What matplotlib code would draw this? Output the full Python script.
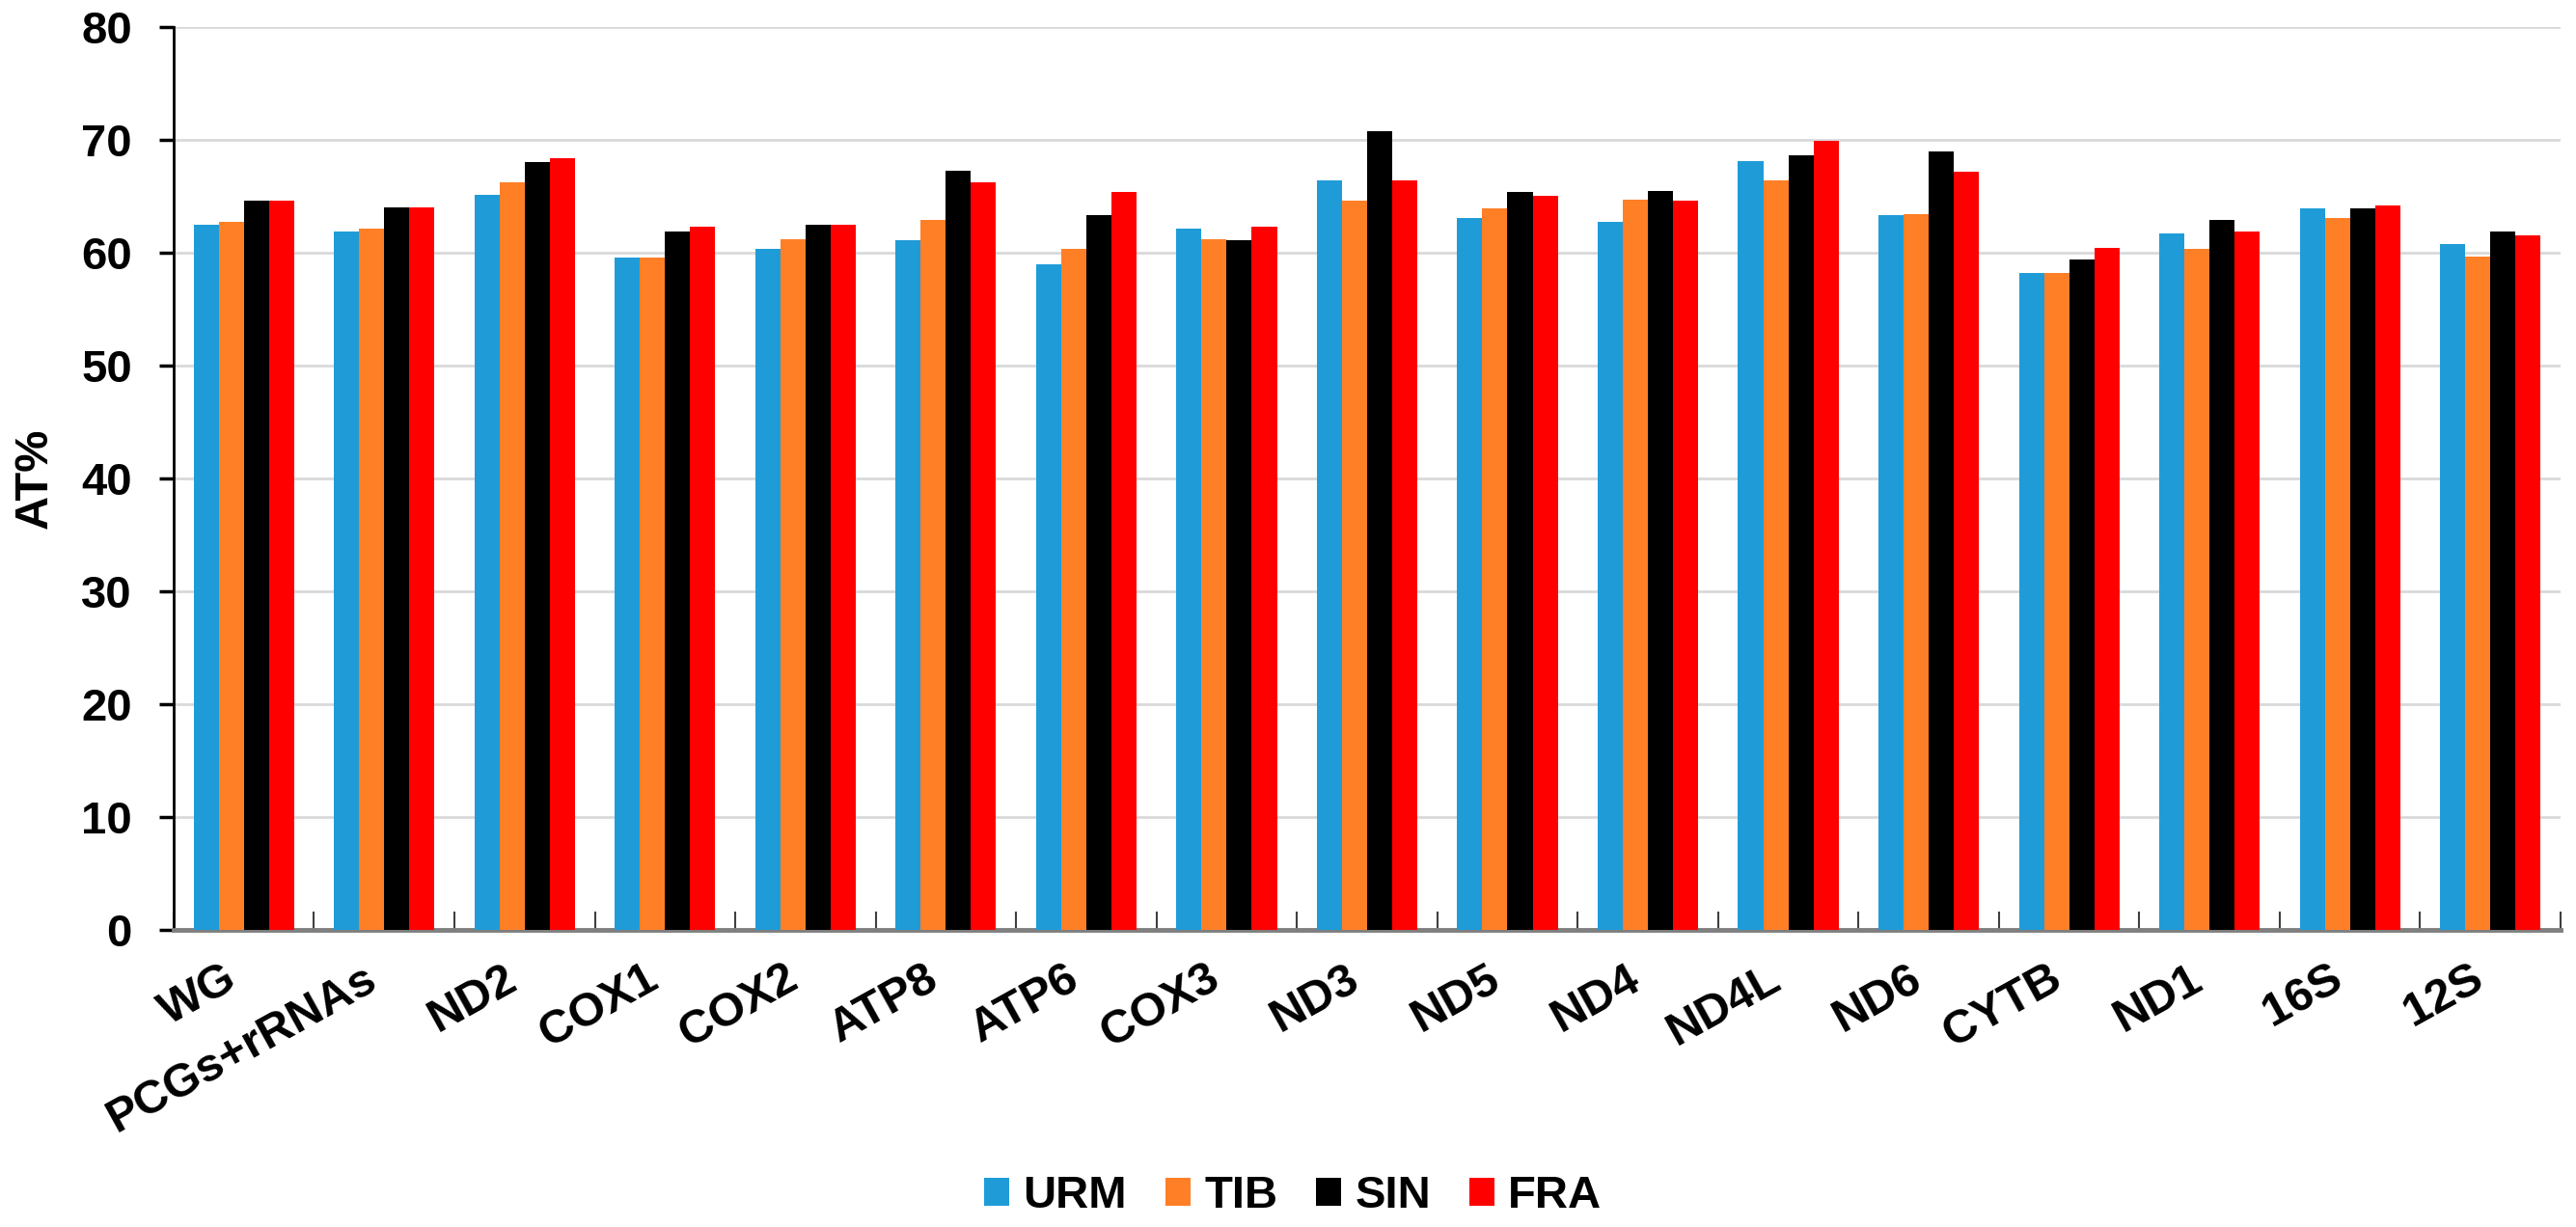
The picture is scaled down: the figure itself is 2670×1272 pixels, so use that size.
import matplotlib
matplotlib.use("Agg")
import matplotlib.pyplot as plt
import numpy as np

plt.rcParams['font.family'] = ['Liberation Sans', 'DejaVu Sans']

categories = ["WG", "PCGs+rRNAs", "ND2", "COX1", "COX2", "ATP8", "ATP6", "COX3",
              "ND3", "ND5", "ND4", "ND4L", "ND6", "CYTB", "ND1", "16S", "12S"]
URM = [62.5, 61.9, 65.1, 59.6, 60.3, 61.1, 59.0, 62.1, 66.4, 63.1, 62.7, 68.1, 63.3, 58.2, 61.7, 63.9, 60.8]
TIB = [62.7, 62.1, 66.2, 59.6, 61.2, 62.9, 60.3, 61.2, 64.6, 63.9, 64.7, 66.4, 63.4, 58.2, 60.3, 63.1, 59.7]
SIN = [64.6, 64.0, 68.0, 61.9, 62.5, 67.3, 63.3, 61.1, 70.8, 65.4, 65.5, 68.6, 69.0, 59.4, 62.9, 63.9, 61.9]
FRA = [64.6, 64.0, 68.4, 62.3, 62.5, 66.2, 65.4, 62.3, 66.4, 65.0, 64.6, 69.9, 67.2, 60.4, 61.9, 64.2, 61.5]
series_names = ["URM", "TIB", "SIN", "FRA"]
colors = ["#1f9cd8", "#ff7f27", "#000000", "#ff0000"]
yticks = [0, 10, 20, 30, 40, 50, 60, 70, 80]

fig = plt.figure(figsize=(26.7, 12.72), dpi=100)
ax = fig.add_axes([0.0674, 0.2421, 0.9266, 0.7359])

x = np.arange(len(categories))
bw = 0.179
for i, (name, vals, c) in enumerate(zip(series_names, [URM, TIB, SIN, FRA], colors)):
    ax.bar(x + (i - 1.5) * bw, vals, width=bw, color=c, label=name, zorder=3)

ax.set_xlim(-0.5, len(categories) - 0.5)
ax.set_ylim(0, 80)
ax.set_yticks(yticks)
ax.set_yticklabels([str(t) for t in yticks], fontsize=34, fontweight='bold')
ax.yaxis.grid(True, color='#d9d9d9', linewidth=2, zorder=0)
ax.set_axisbelow(True)

ax.set_xticks(x)
ax.set_xticklabels(categories, rotation=29, ha='right', fontsize=35, fontweight='bold')
ax.tick_params(axis='x', length=0, pad=20)
ax.set_xticks(np.arange(-0.5, len(categories)), minor=True)
ax.tick_params(axis='x', which='minor', direction='in', length=14, width=1.5, color='#404040')
ax.tick_params(axis='y', length=11, width=2.5, direction='out', pad=20)

for s in ['top', 'right']:
    ax.spines[s].set_visible(False)
ax.spines['left'].set_linewidth(2)
ax.spines['left'].set_color('black')
ax.spines['bottom'].set_linewidth(3.5)
ax.spines['bottom'].set_color('#7f7f7f')

ax.set_ylabel("AT%", fontsize=35, fontweight='bold', labelpad=18)

leg = fig.legend(loc='center', bbox_to_anchor=(0.502, 1 - 1240 / 1272), ncol=4, frameon=False,
                 prop={'size': 34, 'weight': 'bold'}, handlelength=0.55, handleheight=0.55,
                 handletextpad=0.3, columnspacing=0.85)

fig.savefig("out.png", dpi=100, facecolor='white')
